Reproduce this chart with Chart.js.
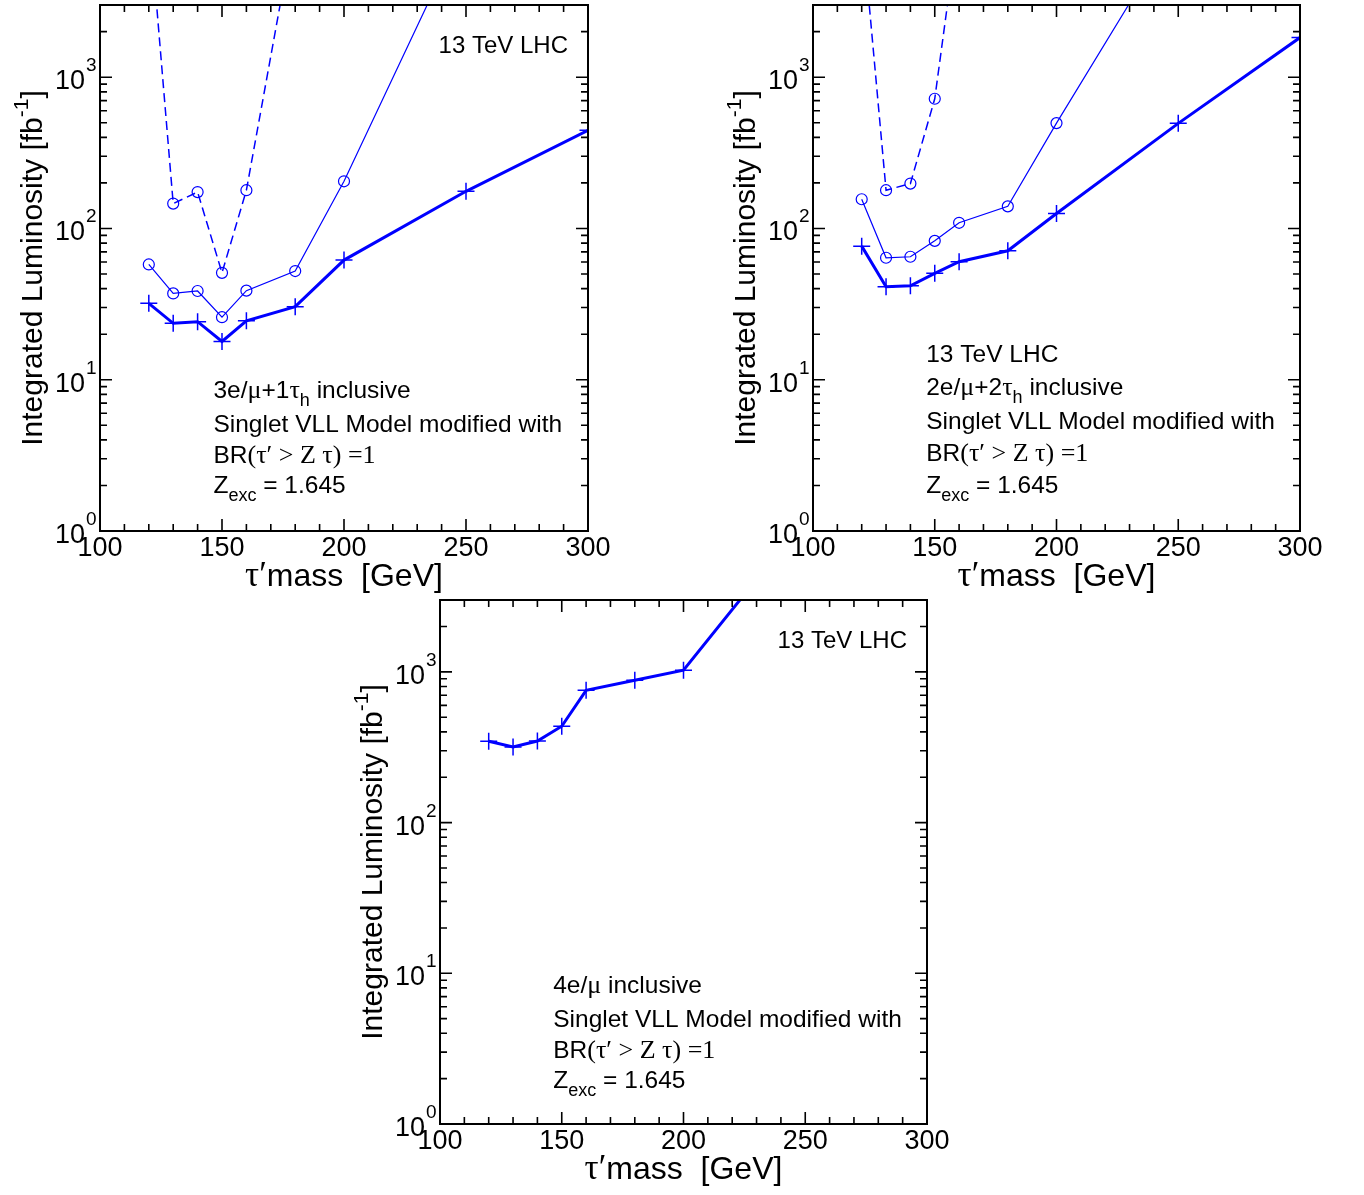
<!DOCTYPE html>
<html>
<head>
<meta charset="utf-8">
<script src="https://cdn.jsdelivr.net/npm/chart.js@4.4.1/dist/chart.umd.min.js"></script>
<style>
  body { margin: 0; background: #fff; }
  canvas.panel { position: absolute; }
</style>
</head>
<body>
<canvas id="panel1" class="panel" style="left:0px;top:0px" width="610" height="595"></canvas>
<canvas id="panel2" class="panel" style="left:700px;top:0px" width="664" height="595"></canvas>
<canvas id="panel3" class="panel" style="left:340px;top:595px" width="620" height="600"></canvas>
<script>
// tau' mass points [GeV]
var massPoints = [120, 130, 140, 150, 160, 180, 200, 250, 300];

// 3e/mu + 1tau_h
var lumi3l1tCross  = [32, 23.6, 24.2, 17.9, 24.5, 30.4, 61.8, 176, 445];
var lumi3l1tCircle = [57.8, 37.2, 38.6, 25.9, 38.8, 52.3, 205, 10500, null];
var lumi3l1tDashed = [12400, 146, 174, 50.9, 179, 10600, null, null, null];

// 2e/mu + 2tau_h
var lumi2l2tCross  = [76.4, 41.2, 41.8, 50.5, 60.3, 71.2, 125.6, 495, 1828];
var lumi2l2tCircle = [156, 64, 65, 82.8, 109, 140, 497, 10400, null];
var lumi2l2tDashed = [10600, 179, 198, 720, 11200, null, null, null, null];

// 4e/mu
var lumi4lCross = [347, 318, 348, 436, 755, 881, 1026, 10400, null];

var xTickLabels = [100, 150, 200, 250, 300];
var yTickExponents = [0, 1, 2, 3];

var BLUE = "rgb(0,0,255)";
var SANS = "'Liberation Sans', Arial, Helvetica, sans-serif";
var SERIF = "'Liberation Serif', 'Times New Roman', serif";

function toXY(values) {
  return massPoints.map(function (m, i) {
    return { x: m, y: values[i] };
  });
}

function crossSet(values) {
  return {
    data: toXY(values),
    borderColor: BLUE,
    borderWidth: 3,
    pointStyle: "cross",
    pointRadius: 8.5,
    pointBorderWidth: 1.5,
    pointBorderColor: BLUE,
    spanGaps: false,
  };
}

function circleSet(values, dashed) {
  return {
    data: toXY(values),
    borderColor: BLUE,
    borderWidth: dashed ? 1.5 : 1.2,
    borderDash: dashed ? [9, 5] : [],
    pointStyle: "circle",
    pointRadius: 5.5,
    pointBorderWidth: 1.2,
    pointBorderColor: BLUE,
    pointBackgroundColor: "rgba(0,0,0,0)",
    spanGaps: false,
  };
}

// draw a line of text made of pieces in different fonts / offsets
function drawRich(ctx, x, y, parts, align) {
  var w = 0;
  parts.forEach(function (p) {
    ctx.font = p.font;
    p.w = ctx.measureText(p.text).width;
    w += p.w;
  });
  var cx = align === "right" ? x - w : align === "center" ? x - w / 2 : x;
  parts.forEach(function (p) {
    ctx.font = p.font;
    ctx.fillText(p.text, cx, y + (p.dy || 0));
    cx += p.w;
  });
}

function sans(size) { return size + "px " + SANS; }
function serif(size) { return size + "px " + SERIF; }

var framePlugin = {
  id: "frame",
  afterDraw: function (chart) {
    var ctx = chart.ctx;
    var a = chart.chartArea;
    var xs = chart.scales.x;
    var ys = chart.scales.y;
    var opts = chart.options.plugins.frame;

    ctx.save();
    ctx.strokeStyle = "#000";
    ctx.fillStyle = "#000";
    ctx.lineWidth = 2;
    ctx.strokeRect(a.left, a.top, a.right - a.left, a.bottom - a.top);

    // inward ticks
    ctx.lineWidth = 1.6;
    ctx.beginPath();
    for (var v = 100; v <= 300; v += 10) {
      var px = xs.getPixelForValue(v);
      var len = v % 50 === 0 ? 12 : 7;
      ctx.moveTo(px, a.bottom); ctx.lineTo(px, a.bottom - len);
      ctx.moveTo(px, a.top); ctx.lineTo(px, a.top + len);
    }
    yTickExponents.forEach(function (e) {
      for (var k = 1; k <= 9; k++) {
        var val = k * Math.pow(10, e);
        if (val > ys.max) break;
        var py = ys.getPixelForValue(val);
        var l = k === 1 ? 12 : 7;
        ctx.moveTo(a.left, py); ctx.lineTo(a.left + l, py);
        ctx.moveTo(a.right, py); ctx.lineTo(a.right - l, py);
      }
    });
    ctx.stroke();

    // tick labels
    ctx.textBaseline = "alphabetic";
    ctx.textAlign = "left";
    xTickLabels.forEach(function (t) {
      drawRich(ctx, xs.getPixelForValue(t), a.bottom + 25, [{ text: String(t), font: sans(27) }], "center");
    });
    yTickExponents.forEach(function (e) {
      var py = ys.getPixelForValue(Math.pow(10, e));
      drawRich(ctx, a.left - 15, py + 12, [{ text: "10", font: sans(27) }], "right");
      drawRich(ctx, a.left - 14, py - 6, [{ text: String(e), font: sans(19) }], "left");
    });

    // axis titles
    var cxMid = (a.left + a.right) / 2;
    drawRich(ctx, cxMid, a.bottom + 55, [
      { text: "\u03c4\u2032", font: serif(35) },
      { text: "mass  [GeV]", font: sans(32) },
    ], "center");

    ctx.save();
    ctx.translate(a.left - 58, (a.top + a.bottom) / 2);
    ctx.rotate(-Math.PI / 2);
    drawRich(ctx, 0, 0, [
      { text: "Integrated Luminosity [fb", font: sans(30) },
      { text: "-1", font: sans(21), dy: -14 },
      { text: "]", font: sans(30) },
    ], "center");
    ctx.restore();

    // annotation block
    if (opts.lhcTopRight) {
      drawRich(ctx, a.right - 20, a.top + 48, [{ text: "13 TeV LHC", font: sans(24) }], "right");
    }
    var bx = xs.getPixelForValue(146.5);
    opts.lines.forEach(function (ln, i) {
      drawRich(ctx, bx, a.top + opts.baselines[i], ln, "left");
    });
    ctx.restore();
  },
};

var brLine = [
  { text: "BR", font: sans(24.5) },
  { text: "(\u03c4\u2032 > Z \u03c4) =1", font: serif(26) },
];
var singletLine = [{ text: "Singlet VLL Model modified with", font: sans(24.5) }];
var zLine = [
  { text: "Z", font: sans(24.5) },
  { text: "exc", font: sans(18), dy: 8 },
  { text: " = 1.645", font: sans(24.5) },
];

function makePanel(id, pad, datasets, lines, baselines, lhcTopRight) {
  var ctx = document.getElementById(id).getContext("2d");
  return new Chart(ctx, {
    type: "line",
    data: { datasets: datasets },
    options: {
      responsive: false,
      animation: false,
      devicePixelRatio: 1,
      layout: { padding: pad, autoPadding: false },
      scales: {
        x: { type: "linear", min: 100, max: 300, display: false },
        y: { type: "logarithmic", min: 1, max: 3000, display: false },
      },
      plugins: {
        legend: { display: false },
        tooltip: { enabled: false },
        frame: { lines: lines, baselines: baselines, lhcTopRight: lhcTopRight },
      },
    },
    plugins: [framePlugin],
  });
}

makePanel(
  "panel1",
  { left: 100, top: 5, right: 22, bottom: 64 },
  [circleSet(lumi3l1tDashed, true), circleSet(lumi3l1tCircle, false), crossSet(lumi3l1tCross)],
  [
    [
      { text: "3e/", font: sans(24.5) },
      { text: "\u03bc", font: serif(26) },
      { text: "+1", font: sans(24.5) },
      { text: "\u03c4", font: serif(26) },
      { text: "h", font: sans(18), dy: 8 },
      { text: " inclusive", font: sans(24.5) },
    ],
    singletLine, brLine, zLine,
  ],
  [393, 427, 458, 488],
  true
);

makePanel(
  "panel2",
  { left: 113, top: 5, right: 64, bottom: 64 },
  [circleSet(lumi2l2tDashed, true), circleSet(lumi2l2tCircle, false), crossSet(lumi2l2tCross)],
  [
    [{ text: "13 TeV LHC", font: sans(24.5) }],
    [
      { text: "2e/", font: sans(24.5) },
      { text: "\u03bc", font: serif(26) },
      { text: "+2", font: sans(24.5) },
      { text: "\u03c4", font: serif(26) },
      { text: "h", font: sans(18), dy: 8 },
      { text: " inclusive", font: sans(24.5) },
    ],
    singletLine, brLine, zLine,
  ],
  [357, 390, 424, 456, 488],
  false
);

makePanel(
  "panel3",
  { left: 100, top: 5, right: 33, bottom: 71 },
  [crossSet(lumi4lCross)],
  [
    [
      { text: "4e/", font: sans(24.5) },
      { text: "\u03bc", font: serif(26) },
      { text: " inclusive", font: sans(24.5) },
    ],
    singletLine, brLine, zLine,
  ],
  [393, 427, 458, 488],
  true
);
</script>
</body>
</html>
